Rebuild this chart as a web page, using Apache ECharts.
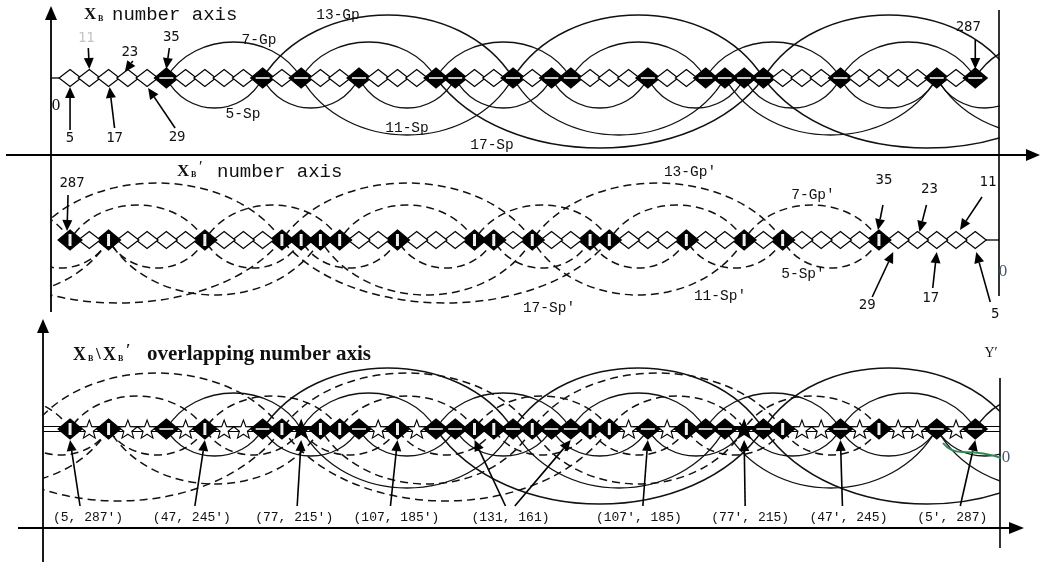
<!DOCTYPE html>
<html><head><meta charset="utf-8">
<script src="https://cdn.jsdelivr.net/npm/echarts@6/dist/echarts.min.js"></script>
<style>html,body{margin:0;padding:0;background:#fff}#c{width:1040px;height:562px}</style>
</head><body><div id="c"></div>
<script>
// ---------------- DATA ----------------
const sequenceValues = [5,11,17,23,29,35,41,47,53,59,65,71,77,83,89,95,101,107,113,119,125,131,137,143,149,155,161,167,173,179,185,191,197,203,209,215,221,227,233,239,245,251,257,263,269,275,281,287];
const mirrorValues = [287,281,275,269,263,257,251,245,239,233,227,221,215,209,203,197,191,185,179,173,167,161,155,149,143,137,131,125,119,113,107,101,95,89,83,77,71,65,59,53,47,41,35,29,23,17,11,5];
const compositeValues = [35,65,77,95,119,125,143,155,161,185,203,209,215,221,245,275,287];
const chain5Sp = [35,65,95,125,155,185,215,245,275,305];
const chain7Gp = [35,77,119,161,203,245,287,329];
const chain11Sp = [77,143,209,275,341];
const chain13Gp = [65,143,221,299];
const chain17Sp = [119,221,323];
const arcNames = ['5-Sp','7-Gp','11-Sp','13-Gp','17-Sp'];
const topPointerValues = [5,11,17,23,29,35,287];
const midPointerValues = [287,35,23,11,29,17,5];
const pairLabelTexts = ['(5, 287′)','(47, 245′)','(77, 215′)','(107, 185′)','(131, 161)','(107′, 185)','(77′, 215)','(47′, 245)','(5′, 287)'];
const pairTargetValues = [[5],[47],[77],[107],[131,161],[185],[215],[245],[287]];

// ---------------- LAYOUT / STYLE ----------------
const PX = 3.21;
const CURVE = 0.21;
const panels = [
  {left:47, top:0,   width:953, height:155, origin:54,    rowY:78,  inverse:false},
  {left:50, top:157, width:947, height:150, origin:991.3, rowY:240, inverse:true},
  {left:43, top:320, width:957, height:208, origin:54,    rowY:429, inverse:false},
  {left:43, top:320, width:957, height:208, origin:991.3, rowY:429, inverse:true}
];
const arcHeights = [
  [-30, 36, -57, 63, -70],
  [-28, 35, -55, 57, -63],
  [-27, 36, -59, 61, -75],
  [-26, 33, -55, 56, -72]
];
const topPointerLayout = [
  {tip:[0,9],  tail:[0,52],  label:[0,60]},
  {tip:[0,-9], tail:[-1,-30],label:[-3,-40], faded:true},
  {tip:[1,9],  tail:[6,50],  label:[6,60]},
  {tip:[-3,-6],tail:[5,-17], label:[2,-26]},
  {tip:[1,10], tail:[28,50], label:[30,59]},
  {tip:[0,-9], tail:[3,-30], label:[5,-41]},
  {tip:[0,-9], tail:[0,-38], label:[-7,-51]}
];
const midPointerLayout = [
  {tip:[-3,-9], tail:[-2,-45], label:[2,-57]},
  {tip:[-1,-10],tail:[4,-35],  label:[5,-60]},
  {tip:[2,-8],  tail:[9,-35],  label:[12,-51]},
  {tip:[4,-10], tail:[26,-43], label:[32,-58]},
  {tip:[-5,12], tail:[-26,57], label:[-31,65]},
  {tip:[0,12],  tail:[-4,48],  label:[-6,58]},
  {tip:[1,12],  tail:[15,62],  label:[20,74]}
];
const pairLayout = [
  {label:[18,89], tails:[[10,77]]},
  {label:[-13,89],tails:[[-10,77]]},
  {label:[-7,89], tails:[[-4,77]]},
  {label:[-1,89], tails:[[-7,77]]},
  {label:[36,89], tails:[[31,77],[-56,77]]},
  {label:[-9,89], tails:[[-5,77]]},
  {label:[6,89],  tails:[[1,77]]},
  {label:[8,89],  tails:[[2,77]]},
  {label:[-23,89],tails:[[-15,77]]}
];

// ---------------- BUILD ----------------
const chains = [chain5Sp, chain7Gp, chain11Sp, chain13Gp, chain17Sp];
const arcData = [];
chains.forEach((ch, k) => { for (let j = 1; j < ch.length; j++) arcData.push([ch[j-1], ch[j], k]); });
const isComp = v => compositeValues.indexOf(v) >= 0;

const topMarks = sequenceValues.map(v => [v, isComp(v) ? 1 : 0]);
const midMarks = sequenceValues.map(v => [v, isComp(v) ? 2 : 0]);
const botMarks = sequenceValues.map((v, i) => {
  const a = isComp(v), b = isComp(mirrorValues[i]);
  return [v, a && b ? 4 : a ? 1 : b ? 2 : 3];
});

function clipOf(params){ const c = params.coordSys; return {type:'rect', shape:{x:c.x, y:c.y, width:c.width, height:c.height}}; }

function arcRender(heights, dashed){
  return function(params, api){
    const a = api.value(0), b = api.value(1), k = api.value(2);
    const p0 = api.coord([a, 0]), p1 = api.coord([b, 0]);
    const ph = api.coord([a, heights[k]]);
    const dy = (ph[1] - p0[1]) / 0.75;
    const w = p1[0] - p0[0];
    return {type:'group', clipPath: clipOf(params), children:[{
      type:'bezierCurve',
      shape:{x1:p0[0], y1:p0[1], x2:p1[0], y2:p1[1], cpx1:p0[0]+w*CURVE, cpy1:p0[1]+dy, cpx2:p1[0]-w*CURVE, cpy2:p1[1]+dy},
      style:{fill:'none', stroke:'#111', lineWidth: dashed ? 1.5 : 1.4, lineDash: dashed ? [8,5] : null}
    }]};
  };
}

function markRender(params, api){
  const c = api.coord([api.value(0), 0]);
  const t = api.value(1);
  const x = c[0], y = c[1];
  const ch = [];
  if (t <= 2){
    const hw = t === 0 ? 11 : 12, hh = t === 0 ? 8.5 : 10;
    ch.push({type:'polygon', shape:{points:[[x,y-hh],[x+hw,y],[x,y+hh],[x-hw,y]]},
      style:{fill: t === 0 ? '#fff' : '#000', stroke:'#000', lineWidth:1.2}});
    if (t === 1) ch.push({type:'line', shape:{x1:x-7,y1:y,x2:x+7,y2:y}, style:{stroke:'#d8d8d8', lineWidth:1.8}});
    if (t === 2) ch.push({type:'rect', shape:{x:x-1.5,y:y-6,width:3,height:12}, style:{fill:'#eee'}});
  } else {
    const pts = [];
    for (let k = 0; k < 10; k++){
      const r = k % 2 ? 4.2 : 10;
      const ang = -Math.PI/2 + k*Math.PI/5;
      pts.push([x + r*Math.cos(ang), y + 1 + r*Math.sin(ang)]);
    }
    ch.push({type:'polygon', shape:{points:pts}, style:{fill: t === 3 ? '#fff' : '#000', stroke:'#000', lineWidth:1.1}});
  }
  return {type:'group', children:ch};
}

function arrowEls(tip, tail){
  const dx = tip[0]-tail[0], dy = tip[1]-tail[1];
  const len = Math.sqrt(dx*dx+dy*dy) || 1;
  const ux = dx/len, uy = dy/len;
  const hl = 11, hw = 5;
  const bx = tip[0]-ux*hl, by = tip[1]-uy*hl;
  return [
    {type:'line', shape:{x1:tail[0],y1:tail[1],x2:bx,y2:by}, style:{stroke:'#000', lineWidth:1.6}},
    {type:'polygon', shape:{points:[[tip[0],tip[1]],[bx-uy*hw,by+ux*hw],[bx+uy*hw,by-ux*hw]]}, style:{fill:'#000'}}
  ];
}

function pointerRender(layout, font){
  return function(params, api){
    const L = layout[params.dataIndex];
    const c = api.coord([api.value(0), 0]);
    const tip = [c[0]+L.tip[0], c[1]+L.tip[1]];
    const tail = [c[0]+L.tail[0], c[1]+L.tail[1]];
    const ch = arrowEls(tip, tail);
    ch.push({type:'text', style:{text:String(api.value(0)), x:c[0]+L.label[0], y:c[1]+L.label[1],
      align:'center', verticalAlign:'middle', font:font, fill: L.faded ? '#c4c4c4' : '#111'}});
    return {type:'group', children:ch};
  };
}

const pairData = [];
pairTargetValues.forEach((tg, p) => tg.forEach((v, j) => pairData.push([v, p, j])));
function pairRender(params, api){
  const v = api.value(0), p = api.value(1), j = api.value(2);
  const L = pairLayout[p];
  const c = api.coord([v, 0]);
  const tip = [c[0], c[1]+11];
  const tail = [c[0]+L.tails[j][0], c[1]+L.tails[j][1]];
  const ch = arrowEls(tip, tail);
  if (j === 0) ch.push({type:'text', style:{text:pairLabelTexts[p], x:c[0]+L.label[0], y:c[1]+L.label[1],
    align:'center', verticalAlign:'middle', font:'13px "Liberation Mono", monospace', fill:'#111'}});
  return {type:'group', children:ch};
}

const grids = panels.slice(0,3).map(p => ({left:p.left, top:p.top, width:p.width, height:p.height}));
const xAxes = panels.map((p, i) => {
  const right = p.left + p.width;
  let min, max;
  if (!p.inverse){ min = (p.left - p.origin)/PX; max = (right - p.origin)/PX; }
  else { max = (p.origin - p.left)/PX; min = (p.origin - right)/PX; }
  return {type:'value', gridIndex: Math.min(i,2), min, max, inverse: p.inverse, show:false};
});
const yAxes = panels.slice(0,3).map((p, i) => ({type:'value', gridIndex:i, max: p.rowY - p.top, min: -(p.top + p.height - p.rowY), show:false}));

const numFont = '14px "DejaVu Sans Mono", monospace';
const series = [
  {type:'custom', xAxisIndex:0, yAxisIndex:0, z:2, data:arcData, renderItem:arcRender(arcHeights[0], false)},
  {type:'custom', xAxisIndex:1, yAxisIndex:1, z:2, data:arcData, renderItem:arcRender(arcHeights[1], true)},
  {type:'custom', xAxisIndex:2, yAxisIndex:2, z:2, data:arcData, renderItem:arcRender(arcHeights[2], false)},
  {type:'custom', xAxisIndex:3, yAxisIndex:2, z:2, data:arcData, renderItem:arcRender(arcHeights[3], true)},
  {type:'custom', xAxisIndex:0, yAxisIndex:0, z:3, data:topMarks, renderItem:markRender},
  {type:'custom', xAxisIndex:1, yAxisIndex:1, z:3, data:midMarks, renderItem:markRender},
  {type:'custom', xAxisIndex:2, yAxisIndex:2, z:3, data:botMarks, renderItem:markRender},
  {type:'custom', xAxisIndex:0, yAxisIndex:0, z:4, data:topPointerValues.map(v=>[v,0]), renderItem:pointerRender(topPointerLayout, numFont)},
  {type:'custom', xAxisIndex:1, yAxisIndex:1, z:4, data:midPointerValues.map(v=>[v,0]), renderItem:pointerRender(midPointerLayout, numFont)},
  {type:'custom', xAxisIndex:2, yAxisIndex:2, z:4, data:pairData, renderItem:pairRender}
];

// ---------------- FRAME & TEXT ----------------
const ln = (x1,y1,x2,y2,w,c) => ({type:'line', z:1, shape:{x1,y1,x2,y2}, style:{stroke:c||'#000', lineWidth:w||1.6}});
const tri = pts => ({type:'polygon', z:1, shape:{points:pts}, style:{fill:'#000'}});
const txt = (t, x, y, font, opts) => ({type:'text', z:10, style:Object.assign({text:t, x:x, y:y, font:font, fill:'#111', align:'left', verticalAlign:'middle'}, opts||{})});
const mono = s => s + 'px "Liberation Mono", monospace';
const serif = s => s + 'px "Liberation Serif", serif';
const serifB = s => 'bold ' + s + 'px "Liberation Serif", serif';

const graphic = [
  ln(51,312,51,16,1.8), tri([[51,6],[45,20],[57,20]]),
  ln(6,155,1028,155,2), tri([[1040,155],[1026,149],[1026,161]]),
  ln(999,10,999,296,1.6),
  ln(51,78,60,78,1.3),
  ln(983,240,999,240,1.3),
  ln(43,562,43,332,1.8), tri([[43,319],[37,333],[49,333]]),
  ln(18,528,1010,528,2), tri([[1024,528],[1009,522],[1009,534]]),
  ln(1000,378,1000,548,1.6),
  ln(43,426.5,1000,426.5,1.1), ln(43,431.5,1000,431.5,1.1),
  {type:'bezierCurve', z:5, shape:{x1:943,y1:443,x2:962,y2:452,cpx1:950,cpy1:452}, style:{fill:'none', stroke:'#2f8a55', lineWidth:2}},
  {type:'bezierCurve', z:5, shape:{x1:962,y1:452,x2:1001,y2:458,cpx1:985,cpy1:452}, style:{fill:'none', stroke:'#2f8a55', lineWidth:2}},
  // titles
  txt('X', 84, 15, serifB(17)), txt('B', 98, 19, serifB(8)), txt('number axis', 112, 15, mono(19)),
  txt('X', 177, 172, serifB(17)), txt('B', 191, 175, serifB(8)), txt('′', 199, 168, serif(16)), txt('number axis', 217, 172, mono(19)),
  txt('X', 73, 355, serifB(18)), txt('B', 88, 359, serifB(8)), txt('\\', 96, 355, serifB(17)), txt('X', 103, 355, serifB(18)), txt('B', 118, 359, serifB(8)), txt('′', 126, 351, serifB(16)),
  txt('overlapping number axis', 147, 355, serifB(21)),
  // arc labels
  txt('13-Gp', 338, 15, mono(14.5), {align:'center'}),
  txt('7-Gp', 259, 40, mono(14.5), {align:'center'}),
  txt('5-Sp', 243, 114, mono(14.5), {align:'center'}),
  txt('11-Sp', 407, 128, mono(14.5), {align:'center'}),
  txt('17-Sp', 492, 145, mono(14.5), {align:'center'}),
  txt('13-Gp′', 690, 172, mono(14.5), {align:'center'}),
  txt('7-Gp′', 813, 195, mono(14.5), {align:'center'}),
  txt('5-Sp′', 803, 274, mono(14.5), {align:'center'}),
  txt('11-Sp′', 720, 296, mono(14.5), {align:'center'}),
  txt('17-Sp′', 549, 308, mono(14.5), {align:'center'}),
  // origin labels
  txt('0', 56, 106, serif(17), {align:'center'}),
  txt('0', 1003, 272, serif(17), {align:'center', fill:'#4a5a70'}),
  txt('0', 1006, 458, serif(17), {align:'center', fill:'#4a5a70'}),
  txt('Y′', 991, 353, serif(14), {align:'center'})
];

const chart = echarts.init(document.getElementById('c'), null, {renderer:'canvas'});
chart.setOption({animation:false, backgroundColor:'#fff', grid:grids, xAxis:xAxes, yAxis:yAxes, series:series, graphic:graphic});
</script></body></html>
